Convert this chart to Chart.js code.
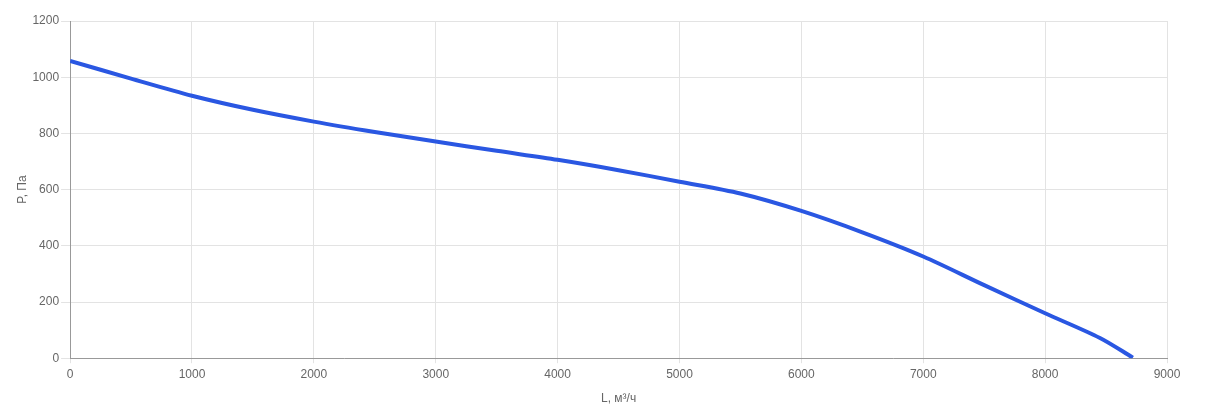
<!DOCTYPE html>
<html>
<head>
<meta charset="UTF-8">
<title>P-L</title>
<script src="https://cdn.jsdelivr.net/npm/chart.js@4/dist/chart.umd.min.js"></script>
<style>
  html, body { margin: 0; padding: 0; background: #fff; }
  #wrap { width: 1208px; height: 415px; }
</style>
</head>
<body>
<div id="wrap"><canvas id="fanChart"></canvas></div>
<script>
// air flow L, m3/h
const flowL = [0, 500, 1000, 1500, 2000, 2500, 3000, 3500, 4000, 4500, 5000, 5500, 6000, 6500, 7000, 7500, 8000, 8450, 8720];
// pressure P, Pa
const pressureP = [1058, 995, 934, 884, 842, 805, 771, 738, 706, 669, 628, 586, 524, 448, 362, 260, 160, 72, 2];

const xTitle = 'L, м³/ч';
const yTitle = 'P, Па';

const points = flowL.map((x, i) => ({ x: x, y: pressureP[i] }));
const axisFont = { family: 'Arial, Liberation Sans', size: 12 };

new Chart(document.getElementById('fanChart').getContext('2d'), {
    type: 'scatter',
    data: {
        datasets: [{
            data: points,
            showLine: true,
            borderColor: '#2a57e2',
            backgroundColor: '#2a57e2',
            borderWidth: 4,
            pointRadius: 0,
            tension: 0.3
        }]
    },
    options: {
        responsive: true,
        maintainAspectRatio: false,
        animation: false,
        layout: { padding: { top: 21, right: 41, left: 8, bottom: 9 } },
        plugins: {
            legend: { display: false },
            tooltip: { enabled: false }
        },
        scales: {
            x: {
                type: 'linear',
                min: 0,
                max: 9000,
                ticks: { stepSize: 1000, color: '#666', font: axisFont, padding: 4, callback: v => String(v) },
                grid: { color: '#e3e3e3', tickLength: 5 },
                border: { color: '#999' },
                title: { display: true, text: xTitle, color: '#666', font: axisFont, padding: { top: 6, bottom: 0 } }
            },
            y: {
                min: 0,
                max: 1200,
                ticks: { stepSize: 200, color: '#666', font: axisFont, padding: 2, callback: v => String(v) },
                grid: { color: '#e3e3e3', tickLength: 9 },
                border: { color: '#999' },
                title: { display: true, text: yTitle, color: '#666', font: axisFont, padding: { top: 7, bottom: 1 } }
            }
        }
    }
});
</script>
</body>
</html>
